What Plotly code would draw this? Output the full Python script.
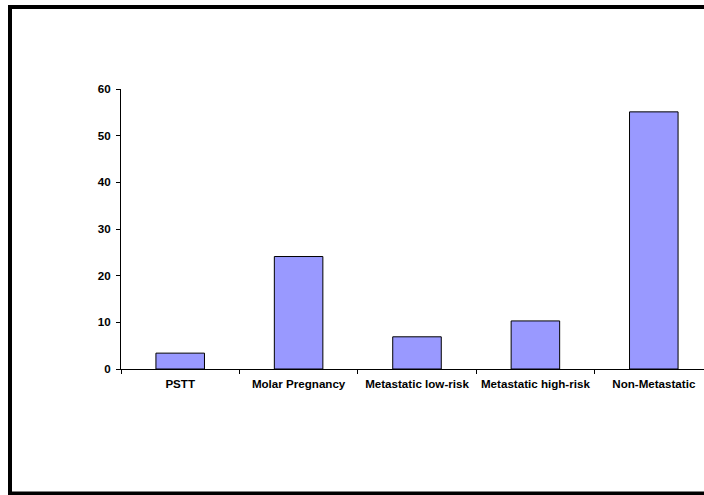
import plotly.graph_objects as go

# Case counts by category
categories = ["PSTT", "Molar Pregnancy", "Metastatic low-risk", "Metastatic high-risk", "Non-Metastatic"]
values = [3.4, 24.1, 6.9, 10.3, 55.1]
y_ticks = [0, 10, 20, 30, 40, 50, 60]

FIG_W, FIG_H = 704, 495
M_L, M_R, M_T, M_B = 121, 0, 89, 126
PLOT_W = FIG_W - M_L - M_R
PLOT_H = FIG_H - M_T - M_B
CAT_PX = 118.4  # width of one category slot in pixels

# the category axis runs on past the right edge of the page
x_max = -0.5 + PLOT_W / CAT_PX


def px_to_paper_x(px):
    return (px - M_L) / PLOT_W


def px_to_paper_y(py):
    return (FIG_H - M_B - py) / PLOT_H


font = dict(family="Liberation Sans, Arial, sans-serif", size=11.6, color="#000000", weight="bold")

fig = go.Figure(
    go.Bar(
        x=categories,
        y=values,
        width=0.41,
        marker=dict(color="#9999FF", line=dict(color="#000000", width=1)),
    )
)

fig.update_layout(
    width=FIG_W,
    height=FIG_H,
    margin=dict(l=M_L, r=M_R, t=M_T, b=M_B, pad=0, autoexpand=False),
    paper_bgcolor="#FFFFFF",
    plot_bgcolor="#FFFFFF",
    showlegend=False,
    font=font,
)

fig.update_xaxes(
    type="category",
    range=[-0.5, x_max],
    automargin=False,
    tickangle=0,
    showgrid=False,
    showline=True,
    linecolor="#000000",
    linewidth=1,
    ticks="outside",
    tickson="boundaries",
    ticklen=4,
    tickcolor="#000000",
    tickfont=font,
    ticklabelstandoff=4,
    zeroline=False,
)

fig.update_yaxes(
    range=[0, 60],
    tickvals=y_ticks,
    automargin=False,
    showgrid=False,
    showline=True,
    linecolor="#000000",
    linewidth=1,
    ticks="outside",
    ticklen=4,
    tickcolor="#000000",
    tickfont=font,
    ticklabelstandoff=3,
    zeroline=False,
)

# Chart-area frame as solid bands: top, left and bottom (right edge lies off the page)
frame_bands = [
    (8, 5, FIG_W, 9),       # top
    (8, 5, 12, 495),        # left
    (8, 491.5, FIG_W, 495), # bottom
]
for x0, y0, x1, y1 in frame_bands:
    fig.add_shape(
        type="rect",
        xref="paper",
        yref="paper",
        x0=px_to_paper_x(x0), x1=px_to_paper_x(x1),
        y0=px_to_paper_y(y1), y1=px_to_paper_y(y0),
        line=dict(width=0),
        fillcolor="#000000",
        layer="below",
    )

fig.write_html("out.html", config={"displayModeBar": False})
